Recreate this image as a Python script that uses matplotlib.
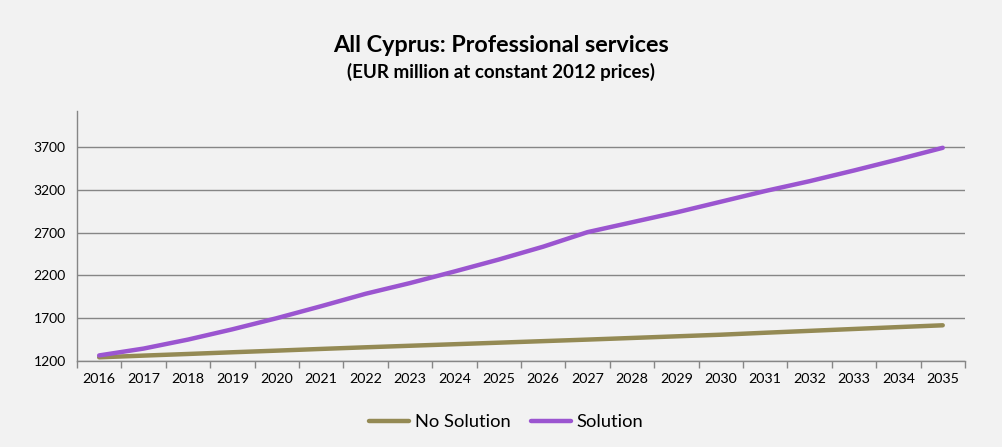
import matplotlib.pyplot as plt
import numpy as np

# data
years = list(range(2016, 2036))
no_solution = [1243, 1263, 1282, 1302, 1321, 1341, 1360, 1378, 1396, 1414,
               1432, 1450, 1469, 1488, 1507, 1530, 1552, 1574, 1596, 1617]
solution = [1265, 1345, 1450, 1570, 1700, 1840, 1985, 2110, 2245, 2385,
            2535, 2705, 2820, 2935, 3060, 3185, 3300, 3425, 3555, 3690]
y_ticks = [1200, 1700, 2200, 2700, 3200, 3700]

plt.rcParams['font.family'] = ['Lato', 'DejaVu Sans']
bg = '#f2f2f2'

fig = plt.figure(figsize=(10.02, 4.47), dpi=100, facecolor=bg)
ax = fig.add_axes([0.0768, 0.1924, 0.8862, 0.5593], facecolor=bg)

x = np.arange(len(years))
ax.plot(x, no_solution, color='#948a54', lw=3.2, solid_capstyle='round', label='No Solution')
ax.plot(x, solution, color='#9b55d0', lw=3.2, solid_capstyle='round', label='Solution')

ax.set_xlim(-0.5, len(years) - 0.5)
ax.set_ylim(1200, 4120)
ax.set_yticks(y_ticks)
ax.set_yticklabels([str(v) for v in y_ticks], fontsize=10)
ax.tick_params(axis='y', length=0, pad=8)
ax.set_xticks(x)
ax.set_xticklabels([str(y) for y in years], fontsize=10.3)
ax.set_xticks(np.arange(-0.5, len(years)), minor=True)
ax.tick_params(axis='x', which='major', length=0, pad=9)
ax.tick_params(axis='x', which='minor', length=5, color='#868686', width=1)

ax.grid(axis='y', color='#868686', lw=1)
ax.set_axisbelow(True)
for s in ['top', 'right']:
    ax.spines[s].set_visible(False)
for s in ['left', 'bottom']:
    ax.spines[s].set_color('#868686')
    ax.spines[s].set_linewidth(1)

fig.text(0.5, 0.898, 'All Cyprus: Professional services', ha='center', va='center',
         fontsize=16.8, fontweight='bold')
fig.text(0.5, 0.838, '(EUR million at constant 2012 prices)', ha='center', va='center',
         fontsize=13.5, fontweight='bold')

fig.legend(loc='center', bbox_to_anchor=(0.505, 0.056), ncol=2, frameon=False,
           fontsize=13.2, handlelength=2.2, columnspacing=1.1, handletextpad=0.3)

fig.savefig('out.png', dpi=100, facecolor=bg)
